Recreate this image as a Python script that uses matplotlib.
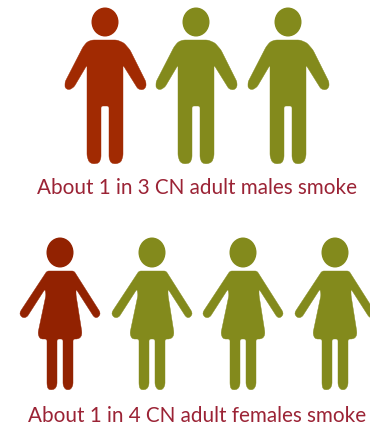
#!/usr/bin/env python3
# -*- coding: utf-8 -*-
import numpy as np
import matplotlib
matplotlib.use("Agg")
import matplotlib.pyplot as plt
from matplotlib.patches import Ellipse, PathPatch
from matplotlib.path import Path

# Datos del pictograma
captions = ["About 1 in 3 CN adult males smoke", "About 1 in 4 CN adult females smoke"]
smokers = [1, 1]
totals = [3, 4]

red_male = "#a12a02"
red_female = "#922201"
green = "#838a1c"
text_color = "#9b2335"

# Siluetas en pixeles, relativas al centro de la figura y a la fila
male_outline = np.array([
    (-13, 40), (12, 40), (19, 43), (25, 50), (41, 82), (41, 87), (38, 90), (33, 89),
    (18, 65), (18, 156), (16, 162), (11, 164), (6, 163), (4, 158), (4, 106), (-4, 106),
    (-4, 158), (-6, 163), (-12, 164), (-16, 162), (-18, 156), (-18, 65), (-31, 87),
    (-36, 90), (-40, 88), (-40, 82), (-22, 47), (-18, 42)], dtype=float)
female_outline = np.array([
    (-13, 41), (14, 41), (40, 82), (40, 85), (37, 88), (34, 87), (16, 59), (16, 65),
    (22, 103), (21, 107), (18, 109), (13, 109), (13, 155), (11, 159), (8, 160),
    (5, 159), (3, 155), (3, 109), (-3, 109), (-3, 155), (-5, 159), (-9, 160),
    (-12, 159), (-13, 155), (-13, 109), (-19, 109), (-21, 107), (-22, 103), (-14, 65),
    (-15, 59), (-33, 87), (-37, 88), (-40, 85), (-40, 82)], dtype=float)

rows = [
    dict(outline=male_outline, cx=[105, 196, 288], y0=0, head_y=22, head=(13.5, 14.5), text_y=188, red=red_male),
    dict(outline=female_outline, cx=[60, 152, 243, 335], y0=230, head_y=252.5, head=(13.5, 15), text_y=416, red=red_female),
]


def rounded_path(pts, r=2.0):
    """Poligono con las esquinas suavizadas con curvas cuadraticas."""
    verts, codes = [], []
    n = len(pts)
    for i in range(n):
        p, prev, nxt = pts[i], pts[i - 1], pts[(i + 1) % n]
        d1, d2 = np.linalg.norm(prev - p), np.linalg.norm(nxt - p)
        a = p + (prev - p) / d1 * min(r, d1 / 2)
        b = p + (nxt - p) / d2 * min(r, d2 / 2)
        verts += [a, p, b]
        codes += [Path.MOVETO if i == 0 else Path.LINETO, Path.CURVE3, Path.CURVE3]
    verts.append(verts[0])
    codes.append(Path.CLOSEPOLY)
    return Path(verts, codes)


fig = plt.figure(figsize=(3.7, 4.33), dpi=100)
ax = fig.add_axes([0, 0, 1, 1])
ax.set_xlim(0, 370)
ax.set_ylim(433, 0)
ax.axis("off")

for row, caption, n_red, n_total in zip(rows, captions, smokers, totals):
    for i in range(n_total):
        color = row["red"] if i < n_red else green
        cx = row["cx"][i]
        ax.add_patch(Ellipse((cx, row["head_y"]), 2 * row["head"][0], 2 * row["head"][1], color=color, lw=0))
        ax.add_patch(PathPatch(rounded_path(row["outline"] + (cx, row["y0"])), facecolor=color, edgecolor=color, lw=0.3))
    ax.text(197, row["text_y"], caption, ha="center", va="center", color=text_color,
            family="Lato", fontsize=14.9)

fig.savefig("out.png", dpi=100)
